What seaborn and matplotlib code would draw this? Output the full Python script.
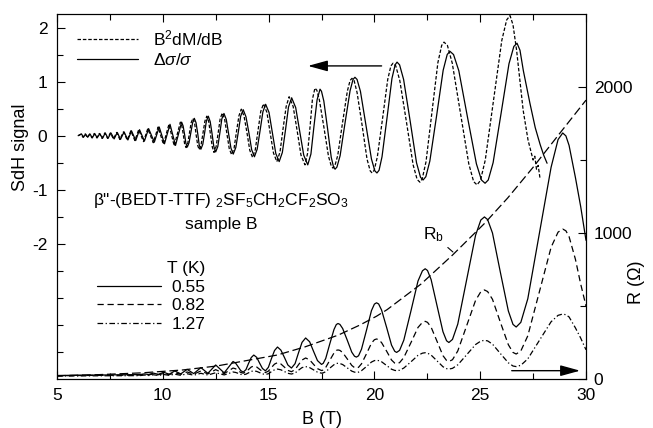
import matplotlib
matplotlib.use('Agg')
import matplotlib.pyplot as plt
from matplotlib.ticker import MultipleLocator, FixedLocator
import seaborn as sns

# upper curves: SdH signal (left axis)
b_solid = [6.0, 6.16, 6.25, 6.35, 6.45, 6.56, 6.67, 6.78, 6.9, 7.02, 7.15, 7.28, 7.41, 7.55, 7.7, 7.85,
           8.0, 8.17, 8.35, 8.52, 8.72, 8.9, 9.13, 9.33, 9.6, 9.83, 10.08, 10.34, 10.6, 10.89,
           10.96, 11.03, 11.09, 11.16, 11.24, 11.33, 11.41, 11.49, 11.57, 11.65, 11.72, 11.8,
           11.89, 11.98, 12.06, 12.15, 12.24, 12.33, 12.41, 12.5, 12.6, 12.7, 12.79, 12.89,
           13.0, 13.11, 13.22, 13.33, 13.45, 13.57, 13.68, 13.8, 13.93, 14.07, 14.2, 14.33,
           14.46, 14.6, 14.73, 14.86, 15.02, 15.18, 15.34, 15.5, 15.65, 15.8, 15.94, 16.09,
           16.28, 16.47, 16.66, 16.85, 17.0, 17.14, 17.29, 17.43,
           17.5, 17.61, 17.79, 17.96, 18.07, 18.14, 18.23, 18.38, 18.61, 18.85, 18.99, 19.08,
           19.18, 19.34, 19.6, 19.86, 20.02, 20.12, 20.22, 20.36, 20.6, 20.83, 20.98, 21.07,
           21.19, 21.38, 21.69, 21.99, 22.18, 22.3, 22.43, 22.62, 22.94, 23.25, 23.44, 23.57,
           23.74, 23.99, 24.4, 24.82, 25.06, 25.23, 25.38, 25.61, 25.99, 26.36, 26.59, 26.74,
           26.88, 27.04, 27.35, 27.6, 27.83, 28.0, 28.16]
sig_solid = [0.0, 0.03, -0.03, 0.03, -0.03, 0.03, -0.04, 0.04, -0.04, 0.04, -0.05, 0.05, -0.05, 0.05,
             -0.06, 0.06, -0.07, 0.07, -0.08, 0.09, -0.09, 0.11, -0.10, 0.13, -0.12, 0.16, -0.15, 0.21,
             -0.18, 0.25,
             0.18, 0.02, -0.14, -0.21, -0.13, 0.06, 0.24, 0.32, 0.24, 0.04, -0.17, -0.25,
             -0.16, 0.06, 0.27, 0.36, 0.26, 0.03, -0.20, -0.30, -0.20, 0.06, 0.31, 0.41,
             0.30, 0.04, -0.23, -0.34, -0.22, 0.07, 0.36, 0.48, 0.35, 0.05, -0.26, -0.39,
             -0.25, 0.10, 0.44, 0.58, 0.43, 0.05, -0.33, -0.48, -0.31, 0.11, 0.53, 0.70,
             0.52, 0.08, -0.36, -0.54, -0.34, 0.16, 0.66, 0.86,
             0.82, 0.64, 0.12, -0.40, -0.58, -0.62, -0.58, -0.37, 0.23, 0.83, 1.04, 1.08,
             1.04, 0.82, 0.20, -0.43, -0.65, -0.69, -0.64, -0.39, 0.34, 1.06, 1.31, 1.36,
             1.31, 1.04, 0.27, -0.50, -0.77, -0.82, -0.76, -0.47, 0.37, 1.21, 1.50, 1.56,
             1.50, 1.20, 0.34, -0.52, -0.82, -0.88, -0.82, -0.50, 0.42, 1.33, 1.65, 1.71,
             1.58, 1.20, 0.60, 0.15, -0.16, -0.36, -0.51]

b_dash = [6.0, 6.14, 6.23, 6.33, 6.43, 6.54, 6.65, 6.76, 6.88, 7.0, 7.13, 7.26, 7.39, 7.52, 7.67, 7.82,
          7.97, 8.14, 8.32, 8.49, 8.68, 8.86, 9.09, 9.29, 9.55, 9.78, 10.03, 10.29, 10.54, 10.83,
          10.9, 10.97, 11.03, 11.1, 11.18, 11.26, 11.34, 11.42, 11.5, 11.57, 11.65, 11.72,
          11.81, 11.9, 11.99, 12.08, 12.17, 12.25, 12.34, 12.42, 12.52, 12.62, 12.71, 12.81,
          12.92, 13.03, 13.14, 13.25, 13.37, 13.48, 13.6, 13.71, 13.84, 13.98, 14.11, 14.24,
          14.37, 14.5, 14.63, 14.76, 14.92, 15.07, 15.23, 15.39, 15.54, 15.68, 15.83, 15.97,
          16.16, 16.35, 16.53, 16.72, 16.84, 16.96, 17.07, 17.19,
          17.28, 17.4, 17.62, 17.83, 17.96, 18.04, 18.13, 18.27, 18.49, 18.72, 18.85, 18.94,
          19.04, 19.18, 19.42, 19.65, 19.8, 19.89, 19.99, 20.14, 20.39, 20.63, 20.78, 20.88,
          21.01, 21.2, 21.52, 21.83, 22.02, 22.15, 22.26, 22.44, 22.72, 23.0, 23.18, 23.29,
          23.45, 23.68, 24.07, 24.46, 24.69, 24.85, 25.01, 25.24, 25.63, 26.02, 26.25, 26.41,
          26.55, 26.72, 27.03, 27.26, 27.4, 27.5, 27.58, 27.66, 27.74, 27.83]
sig_dash = [0.0, 0.03, -0.03, 0.03, -0.03, 0.03, -0.04, 0.04, -0.04, 0.04, -0.05, 0.05, -0.05, 0.05,
            -0.06, 0.06, -0.07, 0.07, -0.08, 0.09, -0.09, 0.11, -0.11, 0.13, -0.13, 0.16, -0.16, 0.21,
            -0.19, 0.25,
            0.18, 0.02, -0.15, -0.22, -0.14, 0.05, 0.24, 0.32, 0.24, 0.03, -0.18, -0.26,
            -0.17, 0.05, 0.27, 0.36, 0.26, 0.03, -0.21, -0.31, -0.20, 0.06, 0.31, 0.42,
            0.31, 0.04, -0.24, -0.35, -0.23, 0.07, 0.37, 0.49, 0.36, 0.05, -0.27, -0.40,
            -0.26, 0.10, 0.45, 0.59, 0.43, 0.06, -0.32, -0.48, -0.30, 0.12, 0.54, 0.72,
            0.54, 0.09, -0.36, -0.54, -0.33, 0.17, 0.67, 0.88,
            0.84, 0.66, 0.14, -0.38, -0.56, -0.60, -0.56, -0.36, 0.23, 0.82, 1.02, 1.06,
            1.02, 0.80, 0.19, -0.43, -0.65, -0.69, -0.64, -0.39, 0.33, 1.04, 1.29, 1.34,
            1.29, 1.02, 0.24, -0.54, -0.81, -0.86, -0.80, -0.48, 0.44, 1.35, 1.67, 1.73,
            1.67, 1.34, 0.41, -0.52, -0.85, -0.91, -0.83, -0.45, 0.66, 1.76, 2.14, 2.22,
            2.05, 1.58, 0.47, -0.08, -0.30, -0.45, -0.38, -0.62, -0.55, -0.80]

# lower curves: resistance (right axis) at three temperatures, shared field values
b_low = [5.0, 6.0, 7.0, 8.0, 8.91, 9.12, 9.33, 9.56, 9.79, 10.04, 10.3, 10.57, 10.85, 11.15, 11.46,
         11.8, 12.13, 12.5, 12.9, 13.32,
         13.44, 13.56, 13.68, 13.8, 13.93, 14.05, 14.18, 14.3, 14.44, 14.57, 14.71, 14.85,
         14.99, 15.13, 15.28, 15.42, 15.58, 15.75, 15.91, 16.08, 16.25, 16.41, 16.58, 16.75,
         16.94, 17.12, 17.31, 17.5,
         17.58, 17.7, 17.89, 18.09, 18.2, 18.28, 18.37, 18.5, 18.72, 18.93, 19.06, 19.15,
         19.25, 19.39, 19.63, 19.86, 20.0, 20.1, 20.2, 20.34, 20.58, 20.81, 20.96, 21.05,
         21.19, 21.39, 21.73, 22.06, 22.27, 22.4, 22.51, 22.68, 22.96, 23.24, 23.41, 23.52,
         23.69, 23.94, 24.36, 24.78, 25.03, 25.2, 25.35, 25.58, 25.95, 26.33, 26.55, 26.7,
         26.92, 27.25, 27.8, 28.35, 28.68, 28.9, 29.05, 29.2, 29.5, 29.75, 30.0]
r_055 = [24, 26, 27, 29, 30, 35, 31, 40, 32, 46, 33, 55, 35, 66, 37, 78, 39, 96, 42, 120,
         109, 84, 58, 47, 64, 106, 147, 164, 148, 110, 72, 56,
         80, 138, 195, 219, 198, 147, 96, 75, 105, 178, 251, 281,
         255, 191, 126, 100,
         107, 141, 240, 339, 373, 380, 374, 346, 265, 184, 156, 150,
         159, 204, 336, 468, 513, 522, 514, 472, 352, 232, 190, 182,
         196, 266, 468, 671, 741, 755, 743, 681, 502, 324, 262, 250,
         271, 376, 680, 984, 1089, 1110, 1092, 1000, 733, 466, 374, 356,
         388, 550, 1000, 1450, 1640, 1685, 1665, 1600, 1380, 1180, 950]
r_082 = [22, 24, 25, 26, 27, 32, 28, 35, 29, 38, 30, 43, 32, 48, 33, 55, 35, 64, 37, 75,
         70, 58, 45, 40, 47, 65, 82, 89, 82, 67, 51, 44,
         54, 78, 102, 112, 103, 81, 59, 50, 64, 97, 130, 144,
         131, 101, 71, 58,
         61, 79, 128, 178, 196, 199, 196, 181, 137, 93, 78, 75,
         80, 104, 174, 245, 269, 274, 270, 249, 190, 130, 109, 105,
         112, 147, 250, 353, 388, 395, 388, 355, 258, 160, 127, 120,
         132, 192, 365, 538, 598, 610, 599, 546, 390, 235, 182, 171,
         192, 296, 599, 902, 1006, 1027, 1015, 975, 820, 650, 500]
r_127 = [20, 21, 22, 22.5, 23, 27, 24, 29, 24, 31, 25, 33, 25, 36, 26, 39, 27, 43, 28, 48,
         45, 39, 32, 29, 33, 42, 52, 56, 52, 44, 35, 31,
         36, 50, 63, 68, 63, 51, 39, 34, 41, 60, 78, 85,
         78, 63, 47, 40,
         42, 50, 74, 98, 106, 108, 106, 99, 76, 54, 47, 45,
         47, 57, 86, 116, 126, 128, 126, 118, 92, 67, 59, 57,
         60, 75, 118, 162, 177, 180, 177, 164, 124, 84, 71, 68,
         73, 97, 166, 236, 260, 265, 261, 239, 175, 111, 89, 85,
         94, 138, 265, 392, 436, 445, 440, 425, 350, 280, 200]

# background resistance R_b
b_rb = [5.0, 7.0, 9.0, 10.95, 12.55, 14.1, 15.4, 16.72, 18.28, 19.32, 20.1, 20.6, 22.2, 23.7, 25.2,
        26.3, 27.5, 28.8, 30.0]
r_rb = [22, 30, 42, 62, 89, 130, 164, 220, 300, 370, 430, 475, 650, 850, 1065, 1240, 1450, 1690, 1910]

sns.set_style('ticks', {'axes.edgecolor': 'black', 'xtick.color': 'black', 'ytick.color': 'black',
                        'text.color': 'black', 'axes.labelcolor': 'black'})
plt.rcParams['font.family'] = ['Liberation Sans', 'DejaVu Sans']
plt.rcParams['mathtext.fontset'] = 'custom'
plt.rcParams['mathtext.rm'] = 'Liberation Sans'
plt.rcParams['mathtext.it'] = 'Liberation Sans:italic'
plt.rcParams['axes.unicode_minus'] = False

FS = 12.5
fig = plt.figure(figsize=(6.53, 4.28), dpi=100)
ax = fig.add_axes([57 / 653, 49 / 428, 529 / 653, 365 / 428])
ax2 = ax.twinx()

lw = 0.9
sns.lineplot(x=b_dash, y=sig_dash, ax=ax, color='k', lw=lw, linestyle=(0, (2.8, 1.5)),
             estimator=None, sort=False, label=r'B$^2$dM/dB')
sns.lineplot(x=b_solid, y=sig_solid, ax=ax, color='k', lw=lw, estimator=None, sort=False,
             label=r'$\Delta\sigma/\sigma$')

sns.lineplot(x=b_low, y=r_055, ax=ax2, color='k', lw=lw, estimator=None, sort=False, label='0.55')
sns.lineplot(x=b_low, y=r_082, ax=ax2, color='k', lw=lw, linestyle=(0, (5, 3)),
             estimator=None, sort=False, label='0.82')
sns.lineplot(x=b_low, y=r_127, ax=ax2, color='k', lw=lw, linestyle=(0, (4.5, 2, 1, 2)),
             estimator=None, sort=False, label='1.27')
sns.lineplot(x=b_rb, y=r_rb, ax=ax2, color='k', lw=lw, linestyle=(0, (7, 3)),
             estimator=None, sort=False)

# axes
ax.set_xlim(5, 30)
ax.set_ylim(-4.5, 2.25)
ax.set_xticks([5, 10, 15, 20, 25, 30])
ax.xaxis.set_minor_locator(MultipleLocator(2.5))
ax.set_yticks([-2, -1, 0, 1, 2])
ax.yaxis.set_minor_locator(FixedLocator([-4, -3.5, -3, -2.5, -1.5, -0.5, 0.5, 1.5]))
ax.tick_params(which='both', direction='in', top=True, right=False, labelsize=FS, width=0.8)
ax.tick_params(which='major', length=6)
ax.tick_params(which='minor', length=4)
ax.tick_params(axis='x', pad=6.5)
ax.tick_params(axis='y', pad=7)

ax2.set_ylim(0, 2500)
ax2.set_yticks([0, 1000, 2000])
ax2.yaxis.set_minor_locator(FixedLocator([500, 1500]))
ax2.tick_params(which='both', direction='in', right=True, labelsize=FS, width=0.8, pad=5.5)
ax2.tick_params(which='major', length=6)
ax2.tick_params(which='minor', length=4)

for a in (ax, ax2):
    for s in a.spines.values():
        s.set_linewidth(0.8)
        s.set_color('black')

ax.set_xlabel('B (T)', fontsize=FS + 0.5, labelpad=6)
ax.set_ylabel('SdH signal', fontsize=FS + 0.5)
ax.yaxis.set_label_coords(-0.052, 0.636)
ax2.set_ylabel('R (Ω)', fontsize=FS + 0.5)
ax2.yaxis.set_label_coords(1.08, 0.266)

# legends
h_up, l_up = ax.get_legend_handles_labels()
ax.legend(h_up, l_up, loc='upper left', bbox_to_anchor=(0.038, 0.96), frameon=False,
          fontsize=FS, handlelength=3.5, handletextpad=0.85, labelspacing=0.2,
          borderpad=0, borderaxespad=0)
h_lo, l_lo = ax2.get_legend_handles_labels()
ax2.legend(h_lo[:3], l_lo[:3], loc='upper left', bbox_to_anchor=(0.076, 0.272), frameon=False,
           fontsize=FS, handlelength=3.7, handletextpad=0.6, labelspacing=0.2,
           borderpad=0, borderaxespad=0)

# texts
ax.text(0.068, 0.49, r'β"-(BEDT-TTF) $_2$SF$_5$CH$_2$CF$_2$SO$_3$', transform=ax.transAxes,
        fontsize=FS, ha='left', va='center')
ax.text(0.311, 0.422, 'sample B', transform=ax.transAxes, fontsize=FS, ha='center', va='center')
ax.text(0.244, 0.304, 'T (K)', transform=ax.transAxes, fontsize=FS, ha='center', va='center')
ax2.annotate(r'R$_\mathrm{b}$', xy=(23.71, 870), xytext=(22.77, 990), fontsize=FS,
             ha='center', va='center',
             arrowprops=dict(arrowstyle='-', color='k', lw=0.8, shrinkA=1, shrinkB=0))

# direction arrows
arrow_kw = dict(arrowstyle='-|>,head_length=0.8,head_width=0.22', color='k', lw=1.0,
                shrinkA=0, shrinkB=0, mutation_scale=15)
ax.annotate('', xy=(16.86, 1.29), xytext=(20.34, 1.29), arrowprops=arrow_kw)
ax2.annotate('', xy=(29.72, 57), xytext=(26.49, 57), arrowprops=arrow_kw)

fig.savefig('out.png', dpi=100, facecolor='white')
